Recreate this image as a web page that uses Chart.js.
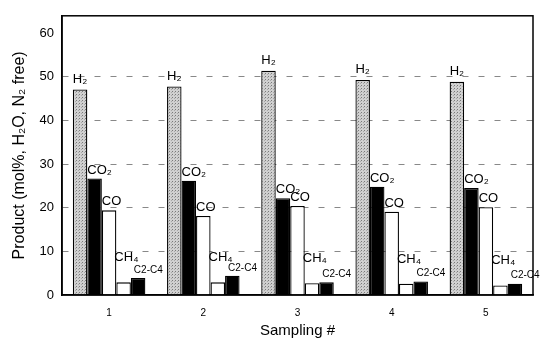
<!DOCTYPE html>
<html><head><meta charset="utf-8">
<script src="https://cdn.jsdelivr.net/npm/chart.js@4"></script>
<style>html,body{margin:0;padding:0;background:#fff}#w{width:542px;height:344px}</style>
</head><body><div id="w"><canvas id="c"></canvas></div>
<script>
const categories = ['1','2','3','4','5'];
const seriesNames = ['H₂','CO₂','CO','CH₄','C2-C4'];
const h2 = [47.1, 47.8, 51.4, 49.3, 48.9];
const co2 = [26.7, 26.2, 22.2, 24.8, 24.5];
const co = [19.4, 18.1, 20.4, 19.1, 20.1];
const ch4 = [2.9, 2.9, 2.7, 2.6, 2.2];
const c2c4 = [3.9, 4.4, 2.9, 3.1, 2.6];
const yTicks = [0, 10, 20, 30, 40, 50, 60];

function stipple(){
  const p = document.createElement('canvas'); p.width = 3; p.height = 3;
  const g = p.getContext('2d');
  g.fillStyle = '#d0d0d0'; g.fillRect(0,0,3,3);
  g.fillStyle = '#7a7a7a'; g.fillRect(1,1,1,1);
  g.fillStyle = '#a8a8a8'; g.fillRect(0,2,1,1);
  return document.getElementById('c').getContext('2d').createPattern(p,'repeat');
}
const fills = [stipple(), '#000', '#fff', '#fff', '#000'];
const values = [h2, co2, co, ch4, c2c4];
const labelOffsets = [4, 2, 2, 18, 3];
const FONT = '"Liberation Sans", Arial, sans-serif';

const labelPlugin = {
  id:'lbl',
  afterDatasetsDraw(chart){
    const ctx = chart.ctx;
    ctx.save();
    ctx.fillStyle = '#000';
    ctx.textBaseline = 'bottom';
    chart.data.datasets.forEach((ds, i) => {
      const meta = chart.getDatasetMeta(i);
      meta.data.forEach(bar => {
        const left = bar.x - bar.width/2;
        const y = bar.y - labelOffsets[i];
        if (i === 0) {
          ctx.font = '13px ' + FONT;
          ctx.textAlign = 'center';
          ctx.fillText(ds.label, bar.x, y);
        } else if (i === 4) {
          ctx.font = '10px ' + FONT;
          ctx.textAlign = 'left';
          ctx.fillText(ds.label, left + 3, y);
        } else {
          ctx.font = '13px ' + FONT;
          ctx.textAlign = 'left';
          ctx.fillText(ds.label, left - (i===3?2:0), y);
        }
      });
    });
    ctx.restore();
  },
  afterDraw(chart){
    const a = chart.chartArea, ctx = chart.ctx;
    ctx.save();
    ctx.strokeStyle = '#000'; ctx.lineWidth = 1.5;
    ctx.strokeRect(a.left, a.top, a.right - a.left, a.bottom - a.top);
    ctx.restore();
  }
};

new Chart(document.getElementById('c'), {
  type:'bar',
  data:{
    labels: categories,
    datasets: seriesNames.map((n,i)=>({
      label:n, data: values[i], backgroundColor: fills[i],
      borderColor:'#000', borderWidth:1.3,
      barPercentage:1.0, categoryPercentage:0.77
    }))
  },
  options:{
    responsive:true, maintainAspectRatio:false, animation:false,
    layout:{padding:{top:5,right:9,left:0,bottom:0}},
    plugins:{legend:{display:false}, tooltip:{enabled:false}},
    scales:{
      x:{
        grid:{display:false},
        border:{color:'#000', width:1.5},
        ticks:{color:'#000', font:{size:10, family:FONT}, padding:4},
        title:{display:true, text:'Sampling #', color:'#000', font:{size:15, family:FONT}, padding:{top:6}},
        afterFit(s){ s.height = 49; }
      },
      y:{
        min:0, max:64,
        afterBuildTicks(s){ s.ticks = yTicks.map(v=>({value:v})); },
        grid:{
          color:(c)=> (c.tick && c.tick.value>0 && c.tick.value<60) ? '#888' : 'rgba(0,0,0,0)',
          drawTicks:false, lineWidth:1
        },
        border:{color:'#000', width:1.5, dash:[6,10]},
        ticks:{color:'#000', font:{size:13, family:FONT}, padding:8},
        title:{display:true, text:'Product (mol%, H₂O, N₂ free)', color:'#000', font:{size:16, family:FONT}, padding:{top:10, bottom:0}},
        afterFit(s){ s.width = 62; }
      }
    }
  },
  plugins:[labelPlugin]
});
</script></body></html>
